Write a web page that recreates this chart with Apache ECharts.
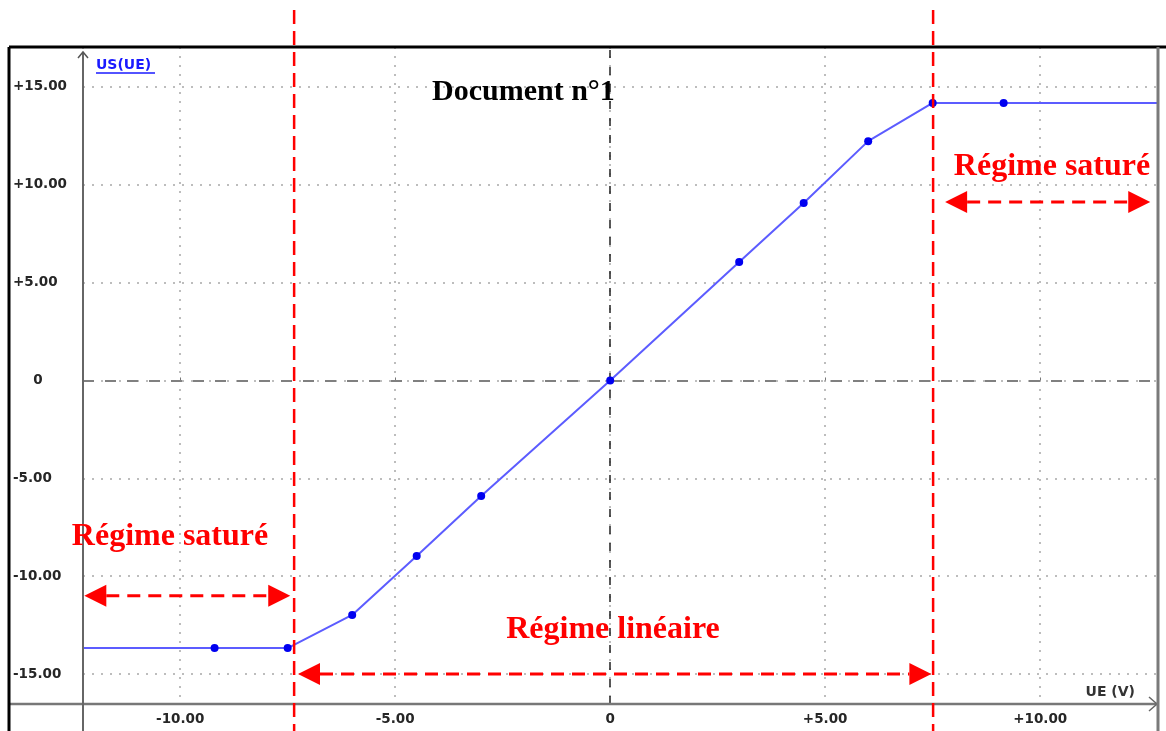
<!DOCTYPE html>
<html><head><meta charset="utf-8">
<style>html,body{margin:0;padding:0;background:#fff}#c{width:1166px;height:731px}</style>
<script src="https://cdn.jsdelivr.net/npm/echarts@6/dist/echarts.min.js"></script>
</head><body><div id="c"></div>
<script>
// ---- data ----
const ueValues = [-12.3, -9.2, -7.5, -6, -4.5, -3, 0, 3, 4.5, 6, 7.5, 9.15, 12.8];
const usValues = [-13.67, -13.67, -13.67, -11.98, -8.97, -5.9, 0, 6.05, 9.07, 12.23, 14.18, 14.18, 14.18];
const showMarker = [false, true, true, true, true, true, true, true, true, true, true, true, false];

const xRange = [-12.26, 12.74];
const yRange = [-16.53, 17.04];
const xTicks = [-10, -5, 0, 5, 10];
const xTickLabels = ['-10.00', '-5.00', '0', '+5.00', '+10.00'];
const yTicks = [-15, -10, -5, 0, 5, 10, 15];
const yTickLabels = ['-15.00', '-10.00', '-5.00', '0', '+5.00', '+10.00', '+15.00'];

// regime boundaries (UE values) and double arrows [start UE, end UE, US level]
const regimeBoundaries = [-7.35, 7.51];
const arrowStart = [-12.23, 7.79, -7.26];
const arrowEnd = [-7.44, 12.56, 7.47];
const arrowLevel = [-11, 9.12, -15];

const titleText = 'Document n°1';
const regimeTexts = ['Régime saturé', 'Régime saturé', 'Régime linéaire'];
const yAxisName = 'US(UE)';
const xAxisName = 'UE (V)';

(function () {
const chart = echarts.init(document.getElementById('c'), null, {renderer: 'canvas'});
const seriesData = ueValues.map((x, i) => ({
  value: [x, usValues[i]],
  symbol: showMarker[i] ? 'circle' : 'none'
}));

const labelFont = {fontFamily: 'DejaVu Sans', fontWeight: 'bold', fontSize: 13.5, color: '#262626'};

chart.setOption({
  animation: false,
  backgroundColor: '#fff',
  grid: {left: 83, right: 8, top: 47, bottom: 27, containLabel: false},
  xAxis: {
    type: 'value', min: xRange[0], max: xRange[1],
    minInterval: 5, maxInterval: 5, splitNumber: 5,
    axisLine: {show: false},
    axisTick: {show: true, inside: true, length: 3, lineStyle: {color: '#777', width: 1}},
    axisLabel: Object.assign({
      margin: 8, showMinLabel: false, showMaxLabel: false,
      formatter: v => { const i = xTicks.indexOf(Math.round(v * 100) / 100); return i >= 0 ? xTickLabels[i] : ''; }
    }, labelFont),
    splitLine: {show: true, lineStyle: {color: '#bdbdbd', width: 2, type: [2, 7]}}
  },
  yAxis: {
    type: 'value', min: yRange[0], max: yRange[1],
    minInterval: 5, maxInterval: 5, splitNumber: 6,
    axisLine: {show: false},
    axisTick: {show: false},
    axisLabel: Object.assign({
      margin: 70, align: 'left', showMinLabel: false, showMaxLabel: false,
      formatter: v => {
        const i = yTicks.indexOf(Math.round(v * 100) / 100);
        if (i < 0) return '';
        return yTicks[i] === 0 ? '{z|0}' : yTickLabels[i];
      },
      rich: {z: {width: 50, align: 'center', fontFamily: 'DejaVu Sans', fontWeight: 'bold', fontSize: 13.5, color: '#262626'}}
    }, labelFont),
    splitLine: {show: true, lineStyle: {color: '#bdbdbd', width: 2, type: [2, 7]}}
  },
  series: [{
    type: 'line',
    data: seriesData,
    clip: true,
    symbolSize: 8,
    lineStyle: {color: '#5c5cff', width: 2},
    itemStyle: {color: '#0000f0'},
    z: 5,
    markLine: {
      silent: true, symbol: 'none', label: {show: false}, animation: false,
      data: [
        {xAxis: 0, lineStyle: {color: '#222', width: 1.5, type: [8, 9]}},
        {yAxis: 0, lineStyle: {color: '#808080', width: 2, type: [11, 11]}}
      ]
    }
  }]
});

function px(x, y) { return chart.convertToPixel({gridIndex: 0}, [x, y]); }
const W = chart.getWidth(), H = chart.getHeight();
const tl = px(xRange[0], yRange[1]);
const br = px(xRange[1], yRange[0]);
const gl = tl[0], gt = tl[1], gr = br[0], gb = br[1];
const red = '#ff0000';
const g = [];

// frame
g.push({type: 'line', shape: {x1: 9, y1: gt, x2: W, y2: gt}, style: {stroke: '#000', lineWidth: 3}, z: 50});
g.push({type: 'line', shape: {x1: 9, y1: gt, x2: 9, y2: H}, style: {stroke: '#000', lineWidth: 3}, z: 50});
g.push({type: 'line', shape: {x1: gr, y1: gt, x2: gr, y2: H}, style: {stroke: '#7a7a7a', lineWidth: 3}, z: 50});
// axes
g.push({type: 'line', shape: {x1: 9, y1: gb, x2: gr, y2: gb}, style: {stroke: '#777', lineWidth: 2.5}, z: 49});
g.push({type: 'polyline', shape: {points: [[gr - 9, gb - 7], [gr - 1, gb], [gr - 9, gb + 7]]}, style: {stroke: '#666', lineWidth: 1.5, fill: null}, z: 49});
g.push({type: 'line', shape: {x1: gl, y1: gt + 5, x2: gl, y2: H}, style: {stroke: '#666', lineWidth: 2}, z: 49});
g.push({type: 'polyline', shape: {points: [[gl - 5, gt + 11], [gl, gt + 5], [gl + 5, gt + 11]]}, style: {stroke: '#555', lineWidth: 1.5, fill: null}, z: 49});

// axis names
g.push({type: 'text', x: gl + 13, y: gt + 18, style: {text: yAxisName, fill: '#1a1aff', font: 'bold 14px "DejaVu Sans"', textVerticalAlign: 'middle'}, z: 60});
g.push({type: 'line', shape: {x1: gl + 13, y1: gt + 26, x2: gl + 72, y2: gt + 26}, style: {stroke: '#1a1aff', lineWidth: 1.5}, z: 60});
g.push({type: 'text', x: gr - 23, y: gb - 12, style: {text: xAxisName, fill: '#333', font: 'bold 14px "DejaVu Sans"', textAlign: 'right', textVerticalAlign: 'middle'}, z: 60});

// title
g.push({type: 'text', x: 432, y: 92, style: {text: titleText, fill: '#000', font: 'bold 30px "Liberation Serif"', textVerticalAlign: 'middle'}, z: 60});

// regime boundaries (red dashed vertical)
regimeBoundaries.forEach(v => {
  const x = px(v, 0)[0];
  g.push({type: 'line', shape: {x1: x, y1: 10, x2: x, y2: H}, style: {stroke: red, lineWidth: 2.5, lineDash: [14, 7]}, z: 70});
});

// double arrows
const ah = 22, aw = 11;
arrowStart.forEach((s, i) => {
  const p1 = px(s, arrowLevel[i]), p2 = px(arrowEnd[i], arrowLevel[i]);
  const y = p1[1];
  g.push({type: 'line', shape: {x1: p1[0] + ah, y1: y, x2: p2[0] - ah, y2: y}, style: {stroke: red, lineWidth: 3, lineDash: [13, 8]}, z: 70});
  g.push({type: 'polygon', shape: {points: [[p1[0], y], [p1[0] + ah, y - aw], [p1[0] + ah, y + aw]]}, style: {fill: red}, z: 70});
  g.push({type: 'polygon', shape: {points: [[p2[0], y], [p2[0] - ah, y - aw], [p2[0] - ah, y + aw]]}, style: {fill: red}, z: 70});
});

// regime texts
const regimeTextPos = [[1052, 167], [170, 537], [613, 630]];
regimeTexts.forEach((t, i) => {
  g.push({type: 'text', x: regimeTextPos[i][0], y: regimeTextPos[i][1], style: {text: t, fill: red, font: 'bold 32px "Liberation Serif"', textAlign: 'center', textVerticalAlign: 'middle'}, z: 80});
});

chart.setOption({graphic: g});
})();
</script>
</body></html>
